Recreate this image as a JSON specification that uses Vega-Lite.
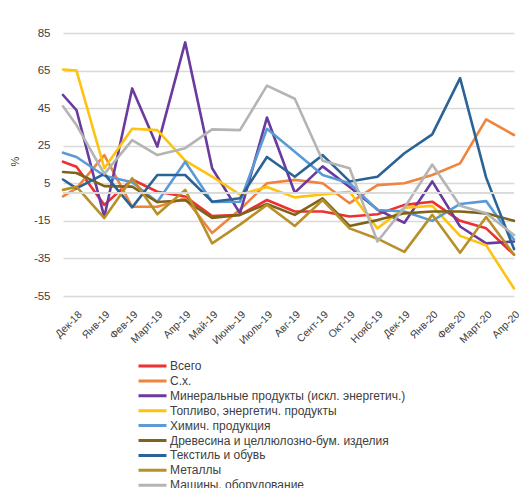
{
  "$schema": "https://vega.github.io/schema/vega-lite/v6.json",
  "width": 451,
  "height": 263,
  "autosize": {"type": "none"},
  "padding": {"left": 63, "top": 33, "right": 5, "bottom": 192},
  "background": "white",
  "config": {
    "font": "Liberation Sans",
    "view": {"stroke": null},
    "axis": {"labelColor": "#404040", "titleColor": "#404040"}
  },
  "data": {"values": [
    {"s":"Всего","d":"2018-11-16T00:00:00","v":16.5},{"s":"Всего","d":"2018-12-01T00:00:00","v":13.8},{"s":"Всего","d":"2019-01-01T00:00:00","v":-6.5},{"s":"Всего","d":"2019-02-01T00:00:00","v":7},{"s":"Всего","d":"2019-03-01T00:00:00","v":0.5},{"s":"Всего","d":"2019-04-01T00:00:00","v":-2},{"s":"Всего","d":"2019-05-01T00:00:00","v":-12.4},{"s":"Всего","d":"2019-06-01T00:00:00","v":-11.8},{"s":"Всего","d":"2019-07-01T00:00:00","v":-3.9},{"s":"Всего","d":"2019-08-01T00:00:00","v":-10},{"s":"Всего","d":"2019-09-01T00:00:00","v":-10},{"s":"Всего","d":"2019-10-01T00:00:00","v":-12.7},{"s":"Всего","d":"2019-11-01T00:00:00","v":-11.5},{"s":"Всего","d":"2019-12-01T00:00:00","v":-6.5},{"s":"Всего","d":"2020-01-01T00:00:00","v":-4.8},{"s":"Всего","d":"2020-02-01T00:00:00","v":-15},{"s":"Всего","d":"2020-03-01T00:00:00","v":-19},{"s":"Всего","d":"2020-04-01T00:00:00","v":-33},
    {"s":"С.х.","d":"2018-11-16T00:00:00","v":-2},{"s":"С.х.","d":"2018-12-01T00:00:00","v":2.3},{"s":"С.х.","d":"2019-01-01T00:00:00","v":20},{"s":"С.х.","d":"2019-02-01T00:00:00","v":-7.5},{"s":"С.х.","d":"2019-03-01T00:00:00","v":-7.5},{"s":"С.х.","d":"2019-04-01T00:00:00","v":-3},{"s":"С.х.","d":"2019-05-01T00:00:00","v":-21.5},{"s":"С.х.","d":"2019-06-01T00:00:00","v":-9},{"s":"С.х.","d":"2019-07-01T00:00:00","v":5},{"s":"С.х.","d":"2019-08-01T00:00:00","v":6.8},{"s":"С.х.","d":"2019-09-01T00:00:00","v":5},{"s":"С.х.","d":"2019-10-01T00:00:00","v":-5.6},{"s":"С.х.","d":"2019-11-01T00:00:00","v":4},{"s":"С.х.","d":"2019-12-01T00:00:00","v":5},{"s":"С.х.","d":"2020-01-01T00:00:00","v":9.4},{"s":"С.х.","d":"2020-02-01T00:00:00","v":15.6},{"s":"С.х.","d":"2020-03-01T00:00:00","v":39},{"s":"С.х.","d":"2020-04-01T00:00:00","v":30.7},
    {"s":"Минеральные продукты (искл. энергетич.)","d":"2018-11-16T00:00:00","v":52},{"s":"Минеральные продукты (искл. энергетич.)","d":"2018-12-01T00:00:00","v":44},{"s":"Минеральные продукты (искл. энергетич.)","d":"2019-01-01T00:00:00","v":-13},{"s":"Минеральные продукты (искл. энергетич.)","d":"2019-02-01T00:00:00","v":55.5},{"s":"Минеральные продукты (искл. энергетич.)","d":"2019-03-01T00:00:00","v":24.5},{"s":"Минеральные продукты (искл. энергетич.)","d":"2019-04-01T00:00:00","v":80},{"s":"Минеральные продукты (искл. энергетич.)","d":"2019-05-01T00:00:00","v":13},{"s":"Минеральные продукты (искл. энергетич.)","d":"2019-06-01T00:00:00","v":-11},{"s":"Минеральные продукты (искл. энергетич.)","d":"2019-07-01T00:00:00","v":40},{"s":"Минеральные продукты (искл. энергетич.)","d":"2019-08-01T00:00:00","v":0},{"s":"Минеральные продукты (искл. энергетич.)","d":"2019-09-01T00:00:00","v":14},{"s":"Минеральные продукты (искл. энергетич.)","d":"2019-10-01T00:00:00","v":3},{"s":"Минеральные продукты (искл. энергетич.)","d":"2019-11-01T00:00:00","v":-9},{"s":"Минеральные продукты (искл. энергетич.)","d":"2019-12-01T00:00:00","v":-16},{"s":"Минеральные продукты (искл. энергетич.)","d":"2020-01-01T00:00:00","v":6},{"s":"Минеральные продукты (искл. энергетич.)","d":"2020-02-01T00:00:00","v":-18},{"s":"Минеральные продукты (искл. энергетич.)","d":"2020-03-01T00:00:00","v":-27},{"s":"Минеральные продукты (искл. энергетич.)","d":"2020-04-01T00:00:00","v":-26},
    {"s":"Топливо, энергетич. продукты","d":"2018-11-16T00:00:00","v":65.6},{"s":"Топливо, энергетич. продукты","d":"2018-12-01T00:00:00","v":65},{"s":"Топливо, энергетич. продукты","d":"2019-01-01T00:00:00","v":13},{"s":"Топливо, энергетич. продукты","d":"2019-02-01T00:00:00","v":34},{"s":"Топливо, энергетич. продукты","d":"2019-03-01T00:00:00","v":33.3},{"s":"Топливо, энергетич. продукты","d":"2019-04-01T00:00:00","v":17},{"s":"Топливо, энергетич. продукты","d":"2019-05-01T00:00:00","v":8.5},{"s":"Топливо, энергетич. продукты","d":"2019-06-01T00:00:00","v":-1},{"s":"Топливо, энергетич. продукты","d":"2019-07-01T00:00:00","v":3},{"s":"Топливо, энергетич. продукты","d":"2019-08-01T00:00:00","v":-2.5},{"s":"Топливо, энергетич. продукты","d":"2019-09-01T00:00:00","v":-1},{"s":"Топливо, энергетич. продукты","d":"2019-10-01T00:00:00","v":0.5},{"s":"Топливо, энергетич. продукты","d":"2019-11-01T00:00:00","v":-19},{"s":"Топливо, энергетич. продукты","d":"2019-12-01T00:00:00","v":-8},{"s":"Топливо, энергетич. продукты","d":"2020-01-01T00:00:00","v":-7},{"s":"Топливо, энергетич. продукты","d":"2020-02-01T00:00:00","v":-23},{"s":"Топливо, энергетич. продукты","d":"2020-03-01T00:00:00","v":-28},{"s":"Топливо, энергетич. продукты","d":"2020-04-01T00:00:00","v":-51},
    {"s":"Химич. продукция","d":"2018-11-16T00:00:00","v":21.3},{"s":"Химич. продукция","d":"2018-12-01T00:00:00","v":19},{"s":"Химич. продукция","d":"2019-01-01T00:00:00","v":9},{"s":"Химич. продукция","d":"2019-02-01T00:00:00","v":5.5},{"s":"Химич. продукция","d":"2019-03-01T00:00:00","v":-5},{"s":"Химич. продукция","d":"2019-04-01T00:00:00","v":16.5},{"s":"Химич. продукция","d":"2019-05-01T00:00:00","v":-5},{"s":"Химич. продукция","d":"2019-06-01T00:00:00","v":-4.8},{"s":"Химич. продукция","d":"2019-07-01T00:00:00","v":34},{"s":"Химич. продукция","d":"2019-08-01T00:00:00","v":21.8},{"s":"Химич. продукция","d":"2019-09-01T00:00:00","v":9.4},{"s":"Химич. продукция","d":"2019-10-01T00:00:00","v":5},{"s":"Химич. продукция","d":"2019-11-01T00:00:00","v":-9.2},{"s":"Химич. продукция","d":"2019-12-01T00:00:00","v":-10},{"s":"Химич. продукция","d":"2020-01-01T00:00:00","v":-15},{"s":"Химич. продукция","d":"2020-02-01T00:00:00","v":-6},{"s":"Химич. продукция","d":"2020-03-01T00:00:00","v":-4.5},{"s":"Химич. продукция","d":"2020-04-01T00:00:00","v":-25},
    {"s":"Древесина и целлюлозно-бум. изделия","d":"2018-11-16T00:00:00","v":11},{"s":"Древесина и целлюлозно-бум. изделия","d":"2018-12-01T00:00:00","v":10.5},{"s":"Древесина и целлюлозно-бум. изделия","d":"2019-01-01T00:00:00","v":3.5},{"s":"Древесина и целлюлозно-бум. изделия","d":"2019-02-01T00:00:00","v":3.2},{"s":"Древесина и целлюлозно-бум. изделия","d":"2019-03-01T00:00:00","v":-5},{"s":"Древесина и целлюлозно-бум. изделия","d":"2019-04-01T00:00:00","v":-4},{"s":"Древесина и целлюлозно-бум. изделия","d":"2019-05-01T00:00:00","v":-13.4},{"s":"Древесина и целлюлозно-бум. изделия","d":"2019-06-01T00:00:00","v":-11.8},{"s":"Древесина и целлюлозно-бум. изделия","d":"2019-07-01T00:00:00","v":-6},{"s":"Древесина и целлюлозно-бум. изделия","d":"2019-08-01T00:00:00","v":-11.8},{"s":"Древесина и целлюлозно-бум. изделия","d":"2019-09-01T00:00:00","v":-3},{"s":"Древесина и целлюлозно-бум. изделия","d":"2019-10-01T00:00:00","v":-17.7},{"s":"Древесина и целлюлозно-бум. изделия","d":"2019-11-01T00:00:00","v":-14.6},{"s":"Древесина и целлюлозно-бум. изделия","d":"2019-12-01T00:00:00","v":-11},{"s":"Древесина и целлюлозно-бум. изделия","d":"2020-01-01T00:00:00","v":-10},{"s":"Древесина и целлюлозно-бум. изделия","d":"2020-02-01T00:00:00","v":-10},{"s":"Древесина и целлюлозно-бум. изделия","d":"2020-03-01T00:00:00","v":-11},{"s":"Древесина и целлюлозно-бум. изделия","d":"2020-04-01T00:00:00","v":-15},
    {"s":"Текстиль и обувь","d":"2018-11-16T00:00:00","v":7},{"s":"Текстиль и обувь","d":"2018-12-01T00:00:00","v":2.3},{"s":"Текстиль и обувь","d":"2019-01-01T00:00:00","v":10},{"s":"Текстиль и обувь","d":"2019-02-01T00:00:00","v":-7.8},{"s":"Текстиль и обувь","d":"2019-03-01T00:00:00","v":9.4},{"s":"Текстиль и обувь","d":"2019-04-01T00:00:00","v":9.4},{"s":"Текстиль и обувь","d":"2019-05-01T00:00:00","v":-4.8},{"s":"Текстиль и обувь","d":"2019-06-01T00:00:00","v":-3},{"s":"Текстиль и обувь","d":"2019-07-01T00:00:00","v":19},{"s":"Текстиль и обувь","d":"2019-08-01T00:00:00","v":8.5},{"s":"Текстиль и обувь","d":"2019-09-01T00:00:00","v":20},{"s":"Текстиль и обувь","d":"2019-10-01T00:00:00","v":6},{"s":"Текстиль и обувь","d":"2019-11-01T00:00:00","v":8.5},{"s":"Текстиль и обувь","d":"2019-12-01T00:00:00","v":21},{"s":"Текстиль и обувь","d":"2020-01-01T00:00:00","v":31},{"s":"Текстиль и обувь","d":"2020-02-01T00:00:00","v":61},{"s":"Текстиль и обувь","d":"2020-03-01T00:00:00","v":8},{"s":"Текстиль и обувь","d":"2020-04-01T00:00:00","v":-30},
    {"s":"Металлы","d":"2018-11-16T00:00:00","v":1.5},{"s":"Металлы","d":"2018-12-01T00:00:00","v":3.2},{"s":"Металлы","d":"2019-01-01T00:00:00","v":-13.5},{"s":"Металлы","d":"2019-02-01T00:00:00","v":7.7},{"s":"Металлы","d":"2019-03-01T00:00:00","v":-11.5},{"s":"Металлы","d":"2019-04-01T00:00:00","v":1.5},{"s":"Металлы","d":"2019-05-01T00:00:00","v":-27},{"s":"Металлы","d":"2019-06-01T00:00:00","v":-17},{"s":"Металлы","d":"2019-07-01T00:00:00","v":-6.5},{"s":"Металлы","d":"2019-08-01T00:00:00","v":-17.7},{"s":"Металлы","d":"2019-09-01T00:00:00","v":-3.9},{"s":"Металлы","d":"2019-10-01T00:00:00","v":-19},{"s":"Металлы","d":"2019-11-01T00:00:00","v":-24.5},{"s":"Металлы","d":"2019-12-01T00:00:00","v":-31.5},{"s":"Металлы","d":"2020-01-01T00:00:00","v":-11.8},{"s":"Металлы","d":"2020-02-01T00:00:00","v":-32},{"s":"Металлы","d":"2020-03-01T00:00:00","v":-13},{"s":"Металлы","d":"2020-04-01T00:00:00","v":-33},
    {"s":"Машины, оборудование","d":"2018-11-16T00:00:00","v":46},{"s":"Машины, оборудование","d":"2018-12-01T00:00:00","v":36},{"s":"Машины, оборудование","d":"2019-01-01T00:00:00","v":10},{"s":"Машины, оборудование","d":"2019-02-01T00:00:00","v":28},{"s":"Машины, оборудование","d":"2019-03-01T00:00:00","v":20},{"s":"Машины, оборудование","d":"2019-04-01T00:00:00","v":23.7},{"s":"Машины, оборудование","d":"2019-05-01T00:00:00","v":33.7},{"s":"Машины, оборудование","d":"2019-06-01T00:00:00","v":33.3},{"s":"Машины, оборудование","d":"2019-07-01T00:00:00","v":57},{"s":"Машины, оборудование","d":"2019-08-01T00:00:00","v":50},{"s":"Машины, оборудование","d":"2019-09-01T00:00:00","v":17},{"s":"Машины, оборудование","d":"2019-10-01T00:00:00","v":13},{"s":"Машины, оборудование","d":"2019-11-01T00:00:00","v":-26},{"s":"Машины, оборудование","d":"2019-12-01T00:00:00","v":-8},{"s":"Машины, оборудование","d":"2020-01-01T00:00:00","v":15},{"s":"Машины, оборудование","d":"2020-02-01T00:00:00","v":-7},{"s":"Машины, оборудование","d":"2020-03-01T00:00:00","v":-11},{"s":"Машины, оборудование","d":"2020-04-01T00:00:00","v":-22.5}
  ]},
  "layer": [
    {
      "mark": {"type": "line", "strokeWidth": 2.6, "strokeJoin": "round", "strokeCap": "round"},
      "encoding": {
        "x": {
          "field": "d", "type": "temporal",
          "scale": {"nice": false},
          "axis": {
            "title": null, "grid": false, "domain": false, "ticks": false,
            "tickCount": {"interval": "month", "step": 1},
            "labelAngle": -45, "labelFontSize": 10.5, "labelPadding": 13,
            "labelExpr": "['Янв','Фев','Март','Апр','Май','Июнь','Июль','Авг','Сент','Окт','Нояб','Дек'][month(datum.value)] + '-' + timeFormat(datum.value, '%y')",
            "labelOverlap": false
          }
        },
        "y": {
          "field": "v", "type": "quantitative",
          "scale": {"domain": [-55, 85], "nice": false, "zero": false},
          "axis": {
            "title": "%", "titleFontSize": 11, "titleFontWeight": "normal",
            "titleX": -43, "titleY": 128, "titleAngle": -90,
            "values": [-55, -35, -15, 5, 25, 45, 65, 85], "tickCount": 20,
            "labelOverlap": false,
            "labelExpr": "replace(datum.label, '\u2212', '-')",
            "domain": false, "ticks": false, "labelPadding": 13, "labelFontSize": 11.5,
            "gridColor": "#d9d9d9", "gridWidth": 1.6
          }
        },
        "color": {
          "field": "s", "type": "nominal",
          "scale": {
            "domain": ["Всего", "С.х.", "Минеральные продукты (искл. энергетич.)", "Топливо, энергетич. продукты", "Химич. продукция", "Древесина и целлюлозно-бум. изделия", "Текстиль и обувь", "Металлы", "Машины, оборудование"],
            "range": ["#ee3030", "#f0843c", "#6a3a9e", "#ffc20e", "#5b9bd5", "#7f6418", "#2a6496", "#b8902a", "#b4b4b4"]
          },
          "legend": {
            "title": null, "orient": "none", "legendX": 74, "legendY": 327,
            "symbolType": "stroke", "symbolSize": 784, "symbolStrokeWidth": 3,
            "clipHeight": 12, "rowPadding": 2.9, "labelOffset": 2,
            "labelFontSize": 12, "labelColor": "#404040", "labelLimit": 400
          }
        }
      }
    },
    {
      "mark": {"type": "rule", "color": "#d9d9d9", "strokeWidth": 1},
      "encoding": {"y": {"datum": 0, "type": "quantitative"}}
    }
  ]
}
